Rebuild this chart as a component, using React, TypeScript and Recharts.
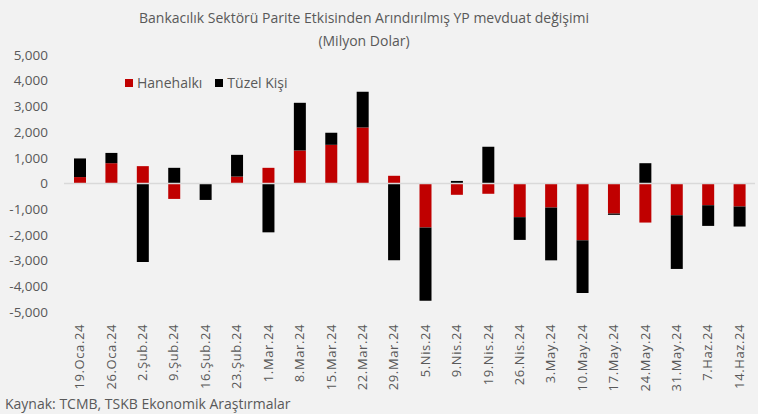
import { BarChart, Bar, XAxis, YAxis, ReferenceLine } from 'recharts';

const dates = [
  '19.Oca.24', '26.Oca.24', '2.Şub.24', '9.Şub.24', '16.Şub.24', '23.Şub.24', '1.Mar.24',
  '8.Mar.24', '15.Mar.24', '22.Mar.24', '29.Mar.24', '5.Nis.24', '9.Nis.24', '19.Nis.24',
  '26.Nis.24', '3.May.24', '10.May.24', '17.May.24', '24.May.24', '31.May.24', '7.Haz.24', '14.Haz.24',
];
const hanehalki = [
  250, 790, 675, -600, 0, 270, 610, 1285, 1505, 2180, 300, -1710, -440, -400,
  -1310, -935, -2210, -1170, -1520, -1235, -845, -895,
];
const tuzelKisi = [
  725, 400, -3050, 610, -640, 845, -1900, 1855, 470, 1390, -2990, -2850, 100, 1430,
  -885, -2055, -2050, -50, 790, -2090, -805, -780,
];
const yTicks = [-5000, -4000, -3000, -2000, -1000, 0, 1000, 2000, 3000, 4000, 5000];

const series = [
  { key: 'hane', name: 'Hanehalkı', color: '#c00000' },
  { key: 'tuzel', name: 'Tüzel Kişi', color: '#000000' },
];

const data = dates.map((d, i) => ({ date: d, hane: hanehalki[i], tuzel: tuzelKisi[i] }));

const GRAY = '#595959';
const FONT = '"Open Sans", "Noto Sans", sans-serif';

const DateTick = ({ x, y, payload }: any) => (
  <g transform={`translate(${x},${y})`}>
    <text
      transform="rotate(-90)"
      x={-10}
      y={0}
      dy="0.35em"
      textAnchor="end"
      fill={GRAY}
      fontSize={13}
      letterSpacing={0.6}
      fontFamily={FONT}
    >
      {payload.value}
    </text>
  </g>
);

const App = () => {
  return (
    <div style={{ position: 'relative', width: 758, height: 414, background: '#f2f2f2', fontFamily: FONT }}>
      <style>{'body{margin:0}'}</style>
      <div style={{ position: 'absolute', top: 6, left: 0, width: 728, textAlign: 'center', color: GRAY, fontSize: 14, lineHeight: '23px' }}>
        Bankacılık Sektörü Parite Etkisinden Arındırılmış YP mevduat değişimi
        <br />
        (Milyon Dolar)
      </div>
      <div style={{ position: 'absolute', top: 73, left: 125, display: 'flex', alignItems: 'center', color: GRAY, fontSize: 14 }}>
        {series.map((s) => (
          <div key={s.key} style={{ display: 'flex', alignItems: 'center', marginRight: 13 }}>
            <span style={{ width: 8, height: 8, background: s.color, marginRight: 4, display: 'inline-block' }} />
            <span>{s.name}</span>
          </div>
        ))}
      </div>
      <BarChart
        width={758}
        height={414}
        data={data}
        stackOffset="sign"
        barSize={12}
        margin={{ top: 55, right: 3, left: 0, bottom: 22 }}
      >
        <YAxis
          domain={[-5000, 5000]}
          ticks={yTicks}
          interval={0}
          width={64}
          axisLine={false}
          tickLine={false}
          tickSize={0}
          tickMargin={16}
          tick={{ fill: GRAY, fontSize: 13.5, fontFamily: FONT }}
          tickFormatter={(v: number) => v.toLocaleString('en-US')}
        />
        <XAxis
          dataKey="date"
          height={80}
          axisLine={false}
          tickLine={false}
          tickSize={0}
          interval={0}
          tick={<DateTick />}
        />
        <ReferenceLine y={0} stroke="#d9d9d9" strokeWidth={1.5} />
        {series.map((s) => (
          <Bar key={s.key} dataKey={s.key} name={s.name} stackId="a" fill={s.color} isAnimationActive={false} />
        ))}
      </BarChart>
      <div style={{ position: 'absolute', left: 5, top: 394, color: GRAY, fontSize: 14 }}>
        Kaynak: TCMB, TSKB Ekonomik Araştırmalar
      </div>
    </div>
  );
};

export default App;
